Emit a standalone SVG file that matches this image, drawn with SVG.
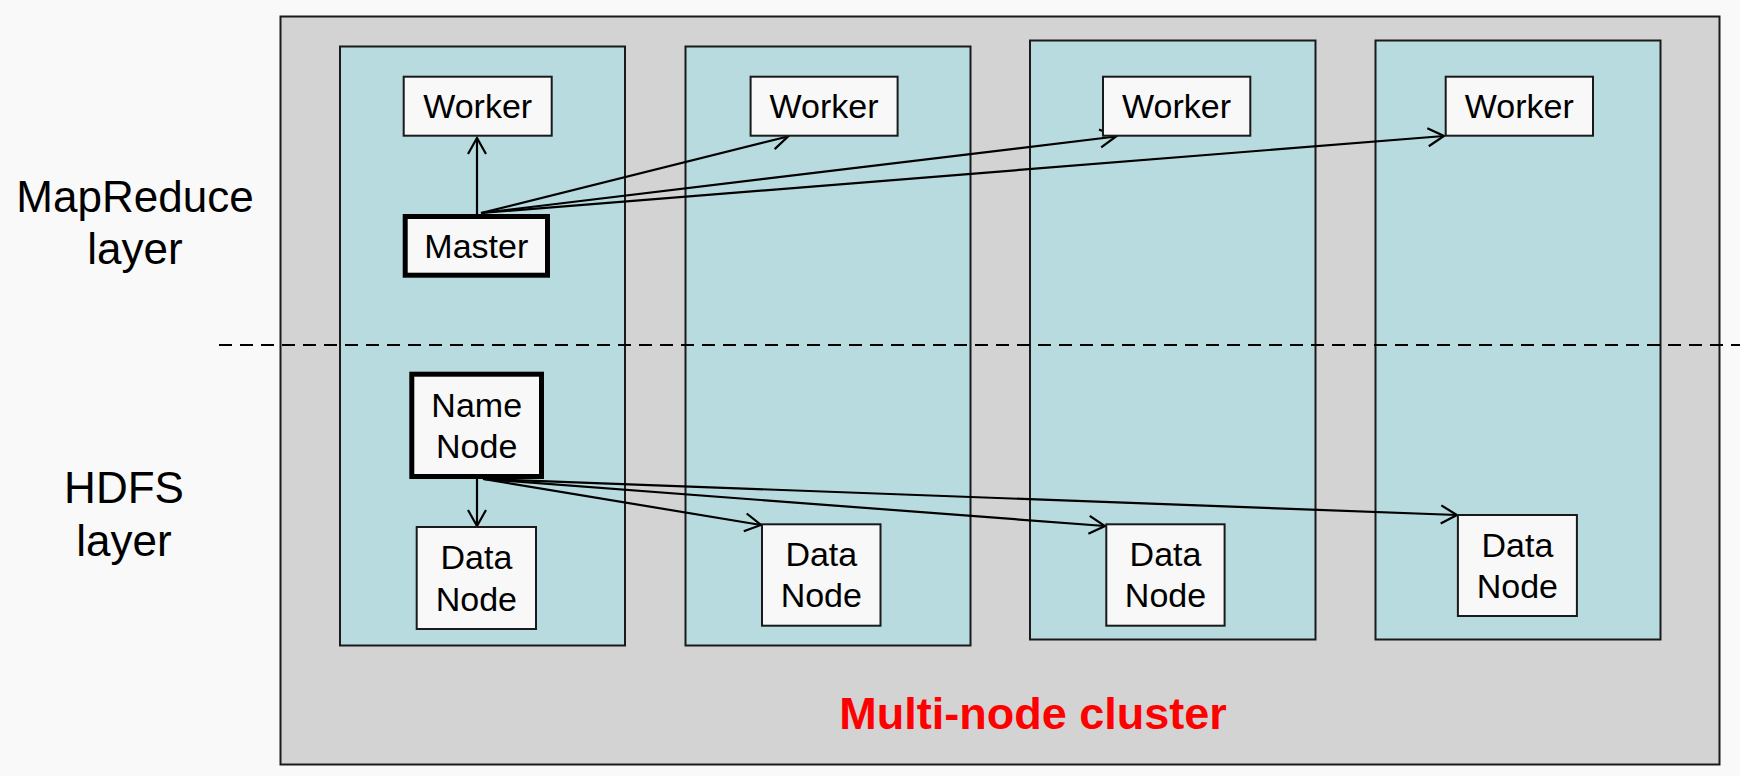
<svg xmlns="http://www.w3.org/2000/svg" width="1740" height="776" viewBox="0 0 1740 776">
<defs>
<style>
.lbl{font-family:"Liberation Sans",Arial,sans-serif;fill:#000;text-anchor:middle}
.side{font-size:44px}
.bx{font-size:34px}
.col{fill:#b8dbdf;stroke:#1a1a1a;stroke-width:2}
.box{fill:#f8f8f8;stroke:#1a1a1a;stroke-width:2}
.thick{fill:#f8f8f8;stroke:#000;stroke-width:5}
.edge{stroke:#000;stroke-width:2.2;fill:none;marker-end:url(#arr)}
</style>
<marker id="arr" markerUnits="userSpaceOnUse" viewBox="-18 -11 20 22" refX="0" refY="0" markerWidth="20" markerHeight="22" orient="auto">
<path d="M-16,-9 L0,0 L-16,9" fill="none" stroke="#000" stroke-width="2.2"/>
</marker>
</defs>
<rect width="1740" height="776" fill="#f9f9f9"/>
<g id="layer-labels">
<text class="lbl side" x="135" y="212">MapReduce</text>
<text class="lbl side" x="135" y="264">layer</text>
<text class="lbl side" x="124" y="503">HDFS</text>
<text class="lbl side" x="124" y="556">layer</text>
</g>
<g id="cluster">
<rect x="280.5" y="16.5" width="1439" height="748" fill="#d3d3d3" stroke="#1a1a1a" stroke-width="2"/>
<text x="1033" y="729" font-family="'Liberation Sans',Arial,sans-serif" font-size="45" font-weight="bold" fill="#ff0000" text-anchor="middle">Multi-node cluster</text>
</g>
<g id="columns">
<rect id="col1" class="col" x="340" y="46.5" width="285" height="599"/>
<rect id="col2" class="col" x="685.5" y="46.5" width="285" height="599"/>
<rect id="col3" class="col" x="1030" y="40.5" width="285.5" height="599"/>
<rect id="col4" class="col" x="1375.5" y="40.5" width="285" height="599"/>
</g>
<line id="divider" x1="219" y1="345" x2="1740" y2="345" stroke="#000" stroke-width="2" stroke-dasharray="13,8"/>
<g id="connectors">
<line class="edge" x1="477" y1="214" x2="477" y2="138"/>
<line class="edge" x1="481" y1="213" x2="788" y2="136.5"/>
<line class="edge" x1="481" y1="213" x2="1116" y2="136.5"/>
<line class="edge" x1="481" y1="213" x2="1444" y2="136"/>
<line class="edge" x1="477" y1="479" x2="477" y2="526"/>
<line class="edge" x1="483" y1="479" x2="761" y2="525"/>
<line class="edge" x1="483" y1="479" x2="1105" y2="526"/>
<line class="edge" x1="485" y1="479" x2="1457" y2="515"/>
</g>
<g id="worker1"><rect class="box" x="403.7" y="76.7" width="148" height="59"/><text class="lbl bx" x="477.7" y="118">Worker</text></g>
<g id="worker2"><rect class="box" x="750.6" y="76.7" width="147" height="59"/><text class="lbl bx" x="824.1" y="118">Worker</text></g>
<g id="worker3"><rect class="box" x="1103" y="76.7" width="147.3" height="59"/><text class="lbl bx" x="1176.6" y="118">Worker</text></g>
<g id="worker4"><rect class="box" x="1445.7" y="76.7" width="147.3" height="59"/><text class="lbl bx" x="1519.3" y="118">Worker</text></g>
<g id="master"><rect class="thick" x="405.2" y="216.5" width="142.3" height="58.7"/><text class="lbl bx" x="476.3" y="258">Master</text></g>
<g id="namenode"><rect class="thick" x="411.8" y="374.2" width="129.7" height="102.3"/><text class="lbl bx" x="476.7" y="417">Name</text><text class="lbl bx" x="476.7" y="458">Node</text></g>
<g id="datanode1"><rect class="box" x="416.7" y="527" width="119.3" height="102"/><text class="lbl bx" x="476.4" y="569">Data</text><text class="lbl bx" x="476.4" y="611">Node</text></g>
<g id="datanode2"><rect class="box" x="762" y="524.3" width="118.5" height="101.4"/><text class="lbl bx" x="821.3" y="566">Data</text><text class="lbl bx" x="821.3" y="607">Node</text></g>
<g id="datanode3"><rect class="box" x="1106.3" y="524.3" width="118.3" height="101.4"/><text class="lbl bx" x="1165.5" y="566">Data</text><text class="lbl bx" x="1165.5" y="607">Node</text></g>
<g id="datanode4"><rect class="box" x="1457.9" y="515" width="119" height="101"/><text class="lbl bx" x="1517.4" y="556.5">Data</text><text class="lbl bx" x="1517.4" y="598">Node</text></g>
</svg>
